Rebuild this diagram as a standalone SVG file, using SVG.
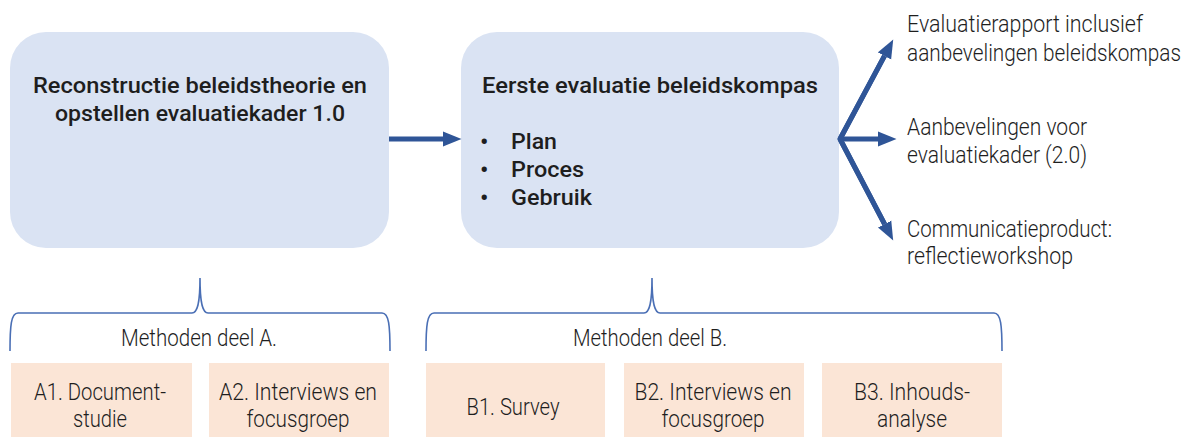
<svg xmlns="http://www.w3.org/2000/svg" width="1189" height="437" viewBox="0 0 1189 437">
<style>
.box{fill:#DAE3F3;}
.pink{fill:#FBE5D6;}
.t{font-family:Roboto,"Liberation Sans",sans-serif;fill:#1e1e1e;}
.title{font-size:22px;font-weight:500;}
.bul{font-size:24px;font-weight:500;}
.lt{font-size:24px;font-weight:300;}
.brace{fill:none;stroke:#4A6FB5;stroke-width:1.6;}
.arr{fill:none;stroke:#2F5597;stroke-width:5;}
</style>
<defs>
<marker id="ah" markerUnits="userSpaceOnUse" markerWidth="19" markerHeight="16" refX="0" refY="8" orient="auto">
<path d="M0,0.5 L18.5,8 L0,15.5 z" fill="#2F5597"/>
</marker>
</defs>
<rect width="1189" height="437" fill="#ffffff"/>

<g id="node-reconstructie">
<rect class="box" x="10" y="32" width="379" height="216" rx="36"/>
<text class="t title" x="200" y="93" text-anchor="middle" textLength="334" lengthAdjust="spacingAndGlyphs">Reconstructie beleidstheorie en</text>
<text class="t title" x="200" y="121" text-anchor="middle" textLength="290" lengthAdjust="spacingAndGlyphs">opstellen evaluatiekader 1.0</text>
</g>

<g id="node-eerste-evaluatie">
<rect class="box" x="461" y="32" width="378" height="216" rx="36"/>
<text class="t title" x="482" y="93" textLength="336" lengthAdjust="spacingAndGlyphs">Eerste evaluatie beleidskompas</text>
<text class="t bul" x="480" y="150">•</text>
<text class="t title" x="511" y="149" textLength="46" lengthAdjust="spacingAndGlyphs">Plan</text>
<text class="t bul" x="480" y="178">•</text>
<text class="t title" x="511" y="177" textLength="73" lengthAdjust="spacingAndGlyphs">Proces</text>
<text class="t bul" x="480" y="206">•</text>
<text class="t title" x="511" y="205" textLength="81" lengthAdjust="spacingAndGlyphs">Gebruik</text>
</g>

<g id="node-evaluatierapport">
<text class="t lt" x="907" y="32" textLength="236" lengthAdjust="spacingAndGlyphs">Evaluatierapport inclusief</text>
<text class="t" transform="translate(907,61) scale(1,1.2)" x="0" y="0" textLength="274" lengthAdjust="spacingAndGlyphs" style="font-size:20px;font-weight:300">aanbevelingen beleidskompas</text>
</g>

<g id="node-aanbevelingen">
<text class="t lt" x="907" y="135" textLength="180" lengthAdjust="spacingAndGlyphs">Aanbevelingen voor</text>
<text class="t lt" x="907" y="163" textLength="180" lengthAdjust="spacingAndGlyphs">evaluatiekader (2.0)</text>
</g>

<g id="node-communicatieproduct">
<text class="t lt" x="907" y="237" textLength="205" lengthAdjust="spacingAndGlyphs">Communicatieproduct:</text>
<text class="t lt" x="907" y="264" textLength="166" lengthAdjust="spacingAndGlyphs">reflectieworkshop</text>
</g>

<g id="node-methoden-a">
<path class="brace" d="M10,351 C10,326 11,313 18,313 L192,313 C197,313 200,305 200,278 C200,305 203,313 208,313 L382,313 C389,313 390,326 390,351"/>
<text class="t lt" x="199" y="346" text-anchor="middle" textLength="156" lengthAdjust="spacingAndGlyphs">Methoden deel A.</text>
</g>

<g id="node-methoden-b">
<path class="brace" d="M426,351 C426,326 427,313 434,313 L644,313 C649,313 652,305 652,278 C652,305 655,313 660,313 L994,313 C1001,313 1002,326 1002,351"/>
<text class="t lt" x="650" y="346" text-anchor="middle" textLength="154" lengthAdjust="spacingAndGlyphs">Methoden deel B.</text>
</g>

<g id="node-a1">
<rect class="pink" x="11" y="363" width="181" height="74"/>
<text class="t lt" x="100" y="400" text-anchor="middle" textLength="132" lengthAdjust="spacingAndGlyphs">A1. Document-</text>
<text class="t lt" x="100" y="427" text-anchor="middle" textLength="54" lengthAdjust="spacingAndGlyphs">studie</text>
</g>

<g id="node-a2">
<rect class="pink" x="209" y="363" width="180" height="74"/>
<text class="t lt" x="298" y="400" text-anchor="middle" textLength="158" lengthAdjust="spacingAndGlyphs">A2. Interviews en</text>
<text class="t lt" x="298" y="427" text-anchor="middle" textLength="103" lengthAdjust="spacingAndGlyphs">focusgroep</text>
</g>

<g id="node-b1">
<rect class="pink" x="426" y="363" width="179" height="74"/>
<text class="t lt" x="513" y="415" text-anchor="middle" textLength="93" lengthAdjust="spacingAndGlyphs">B1. Survey</text>
</g>

<g id="node-b2">
<rect class="pink" x="624" y="363" width="180" height="74"/>
<text class="t lt" x="713" y="400" text-anchor="middle" textLength="157" lengthAdjust="spacingAndGlyphs">B2. Interviews en</text>
<text class="t lt" x="713" y="427" text-anchor="middle" textLength="103" lengthAdjust="spacingAndGlyphs">focusgroep</text>
</g>

<g id="node-b3">
<rect class="pink" x="822" y="363" width="180" height="74"/>
<text class="t lt" x="912" y="400" text-anchor="middle" textLength="116" lengthAdjust="spacingAndGlyphs">B3. Inhouds-</text>
<text class="t lt" x="912" y="427" text-anchor="middle" textLength="70" lengthAdjust="spacingAndGlyphs">analyse</text>
</g>

<g id="connectors">
<path class="arr" d="M389,139 L443,139" marker-end="url(#ah)"/>
<path class="arr" d="M840,139 L884.5,55.9" marker-end="url(#ah)"/>
<path class="arr" d="M840,139 L878,139" marker-end="url(#ah)"/>
<path class="arr" d="M840,139 L884.6,224.1" marker-end="url(#ah)"/>
<path class="arr" d="M884.5,55.9 L840,139 L884.6,224.1" stroke-linejoin="miter" stroke-miterlimit="10"/>
</g>
</svg>
